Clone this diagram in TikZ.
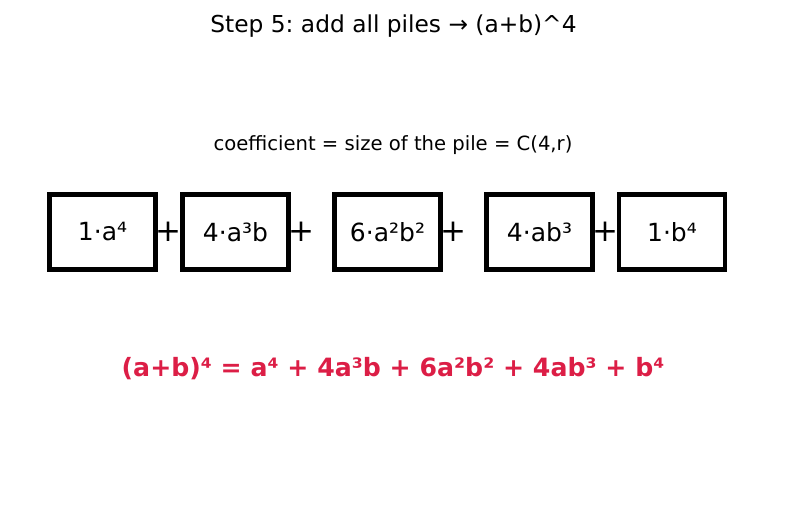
\documentclass[tikz,border=0pt]{standalone}
\usepackage{fontspec}
\setmainfont{DejaVu Sans}
\frenchspacing
\definecolor{formred}{RGB}{220,30,70}
\begin{document}
\begin{tikzpicture}[x=1pt,y=-1pt,
  pile/.style={draw=black,line width=4.5pt,minimum width=106pt,minimum height=75pt,inner sep=0pt,font=\fontsize{25}{30}\selectfont},
  plussign/.style={inner sep=0pt,font=\fontsize{31}{34}\selectfont},
  every node/.style={inner sep=0pt}]
\useasboundingbox (0,0) rectangle (787,510);
\node (title) at (393.5,26) {\fontsize{23.3}{28}\selectfont Step 5: add all piles → (a+b)\^{}4};
\node (sub) at (393,145) {\fontsize{19.6}{24}\selectfont coefficient = size of the pile = C(4,r)};
\node[pile] (b1) at (102.5,232) {1·a⁴};
\node[pile] (b2) at (235.5,232) {4·a³b};
\node[pile] (b3) at (387.5,232) {6·a²b²};
\node[pile] (b4) at (539.5,232) {4·ab³};
\node[pile] (b5) at (672,232) {1·b⁴};
\node[plussign] (p1) at (168.5,232) {+};
\node[plussign] (p2) at (301,232) {+};
\node[plussign] (p3) at (453,232) {+};
\node[plussign] (p4) at (605,232) {+};
\node[text=formred,font=\bfseries\fontsize{25.2}{30}\selectfont] (formula) at (393,369) {(a+b)⁴ = a⁴ + 4a³b + 6a²b² + 4ab³ + b⁴};
\end{tikzpicture}
\end{document}
